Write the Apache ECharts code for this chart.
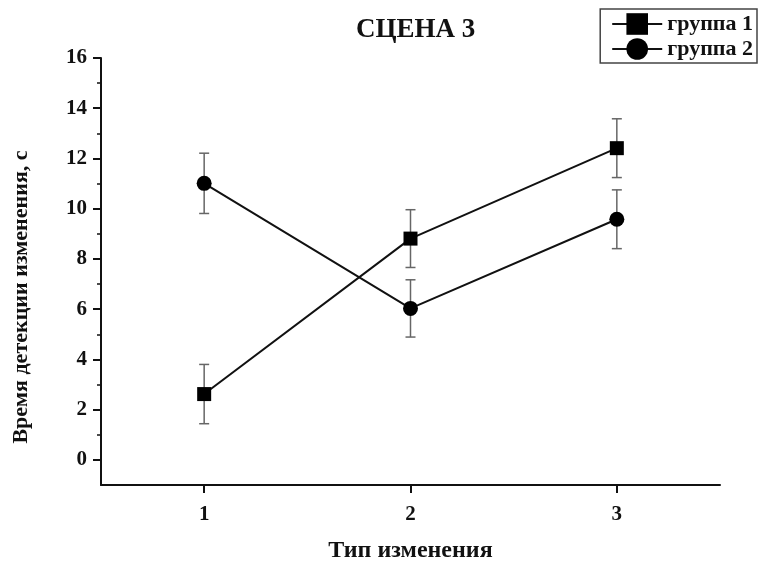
<!DOCTYPE html>
<html>
<head>
<meta charset="utf-8">
<script src="https://cdn.jsdelivr.net/npm/echarts@6/dist/echarts.min.js"></script>
<style>html,body{margin:0;padding:0;background:#fff;}#chart{width:759px;height:568px;}</style>
</head>
<body>
<div id="chart"></div>
<script>
const categories = [1, 2, 3];
const group1 = [2.62, 8.81, 12.41];
const group1Err = [1.18, 1.15, 1.17];
const group2 = [11.01, 6.03, 9.58];
const group2Err = [1.20, 1.14, 1.17];
const yMajorTicks = [0, 2, 4, 6, 8, 10, 12, 14, 16];
const yMinorTicks = [1, 3, 5, 7, 9, 11, 13, 15];
const seriesNames = ['группа 1', 'группа 2'];
const titleText = 'СЦЕНА 3';
const xName = 'Тип изменения';
const yName = 'Время детекции изменения, с';

const FONT = '"Liberation Serif", "DejaVu Serif", serif';
const chart = echarts.init(document.getElementById('chart'));

function errData(means, errs) {
  return categories.map((c, i) => [c, means[i] - errs[i], means[i] + errs[i]]);
}
function errRender(params, api) {
  const x = api.value(0);
  const lo = api.coord([x, api.value(1)]);
  const hi = api.coord([x, api.value(2)]);
  const w = 5;
  const style = { stroke: '#666', lineWidth: 1.5 };
  return {
    type: 'group',
    children: [
      { type: 'line', shape: { x1: lo[0], y1: lo[1], x2: hi[0], y2: hi[1] }, style },
      { type: 'line', shape: { x1: lo[0] - w, y1: lo[1], x2: lo[0] + w, y2: lo[1] }, style },
      { type: 'line', shape: { x1: hi[0] - w, y1: hi[1], x2: hi[0] + w, y2: hi[1] }, style }
    ]
  };
}

const option = {
  backgroundColor: '#fff',
  animation: false,
  title: {
    text: titleText,
    left: 351,
    top: 12,
    textStyle: { fontFamily: FONT, fontWeight: 'bold', fontSize: 27, color: '#111' }
  },
  legend: {
    data: seriesNames,
    orient: 'vertical',
    right: 2,
    top: 9,
    borderColor: '#444',
    borderWidth: 1.5,
    padding: [4, 4, 3, 11],
    itemGap: 3,
    itemWidth: 50,
    itemHeight: 27,
    lineStyle: { width: 2, color: '#111' },
    textStyle: { fontFamily: FONT, fontWeight: 'bold', fontSize: 22, color: '#111' }
  },
  graphic: [
    {
      type: 'text',
      x: 21,
      y: 297,
      rotation: Math.PI / 2,
      style: {
        text: yName,
        fontFamily: FONT,
        fontWeight: 'bold',
        fontSize: 22,
        fill: '#111',
        align: 'center',
        verticalAlign: 'middle'
      }
    }
  ],
  grid: { left: 101, right: 39, top: 58, bottom: 80, containLabel: false },
  xAxis: {
    type: 'value',
    min: 0.5,
    max: 3.5,
    name: xName,
    nameLocation: 'middle',
    nameGap: 54,
    nameTextStyle: { fontFamily: FONT, fontWeight: 'bold', fontSize: 24, color: '#111' },
    axisLine: { onZero: false, lineStyle: { color: '#111', width: 2 } },
    axisTick: { show: true, customValues: categories, length: 8, lineStyle: { color: '#111', width: 2 } },
    axisLabel: { customValues: categories, margin: 19, fontFamily: FONT, fontWeight: 'bold', fontSize: 21, color: '#111' },
    splitLine: { show: false }
  },
  yAxis: [
    {
      type: 'value',
      min: -1,
      max: 16,
      axisLine: { show: true, onZero: false, lineStyle: { color: '#111', width: 2 } },
      axisTick: { show: true, customValues: yMajorTicks, length: 8, lineStyle: { color: '#111', width: 2 } },
      axisLabel: { customValues: yMajorTicks, margin: 14, fontFamily: FONT, fontWeight: 'bold', fontSize: 21, color: '#111' },
      splitLine: { show: false }
    },
    {
      type: 'value',
      min: -1,
      max: 16,
      position: 'left',
      axisLine: { show: false, onZero: false },
      axisTick: { show: true, customValues: yMinorTicks, length: 4, lineStyle: { color: '#111', width: 1.5 } },
      axisLabel: { show: false },
      splitLine: { show: false }
    }
  ],
  series: [
    {
      type: 'custom',
      name: 'err1',
      renderItem: errRender,
      data: errData(group1, group1Err),
      encode: { x: 0, y: [1, 2] },
      z: 1,
      silent: true
    },
    {
      type: 'custom',
      name: 'err2',
      renderItem: errRender,
      data: errData(group2, group2Err),
      encode: { x: 0, y: [1, 2] },
      z: 1,
      silent: true
    },
    {
      type: 'line',
      name: seriesNames[0],
      data: categories.map((c, i) => [c, group1[i]]),
      symbol: 'rect',
      symbolSize: 14,
      color: '#000',
      lineStyle: { color: '#111', width: 2 },
      itemStyle: { color: '#000' },
      z: 3
    },
    {
      type: 'line',
      name: seriesNames[1],
      data: categories.map((c, i) => [c, group2[i]]),
      symbol: 'circle',
      symbolSize: 15,
      color: '#000',
      lineStyle: { color: '#111', width: 2 },
      itemStyle: { color: '#000' },
      z: 3
    }
  ]
};
chart.setOption(option);
</script>
</body>
</html>
